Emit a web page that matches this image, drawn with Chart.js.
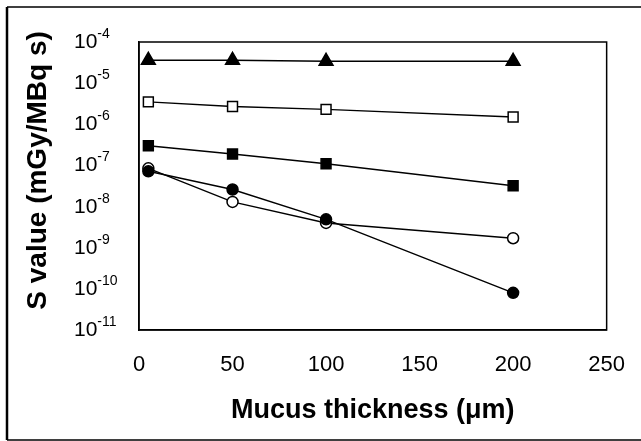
<!DOCTYPE html>
<html>
<head>
<meta charset="utf-8">
<script src="https://cdn.jsdelivr.net/npm/chart.js@4.4.1/dist/chart.umd.min.js"></script>
<style>
  html, body { margin: 0; padding: 0; background: #fff; }
  #wrap { width: 641px; height: 441px; position: relative; }
</style>
</head>
<body>
<div id="wrap"><canvas id="sChart" width="641" height="441"></canvas></div>
<script>
// mucus thickness (um)
const thickness = [5, 50, 100, 200];

// S values (mGy/MBq s)
const triangles = [3.6e-5, 3.6e-5, 3.4e-5, 3.4e-5];
const openSquares = [3.5e-6, 2.7e-6, 2.3e-6, 1.5e-6];
const filledSquares = [3.0e-7, 1.9e-7, 1.1e-7, 3.2e-8];
const openCircles = [8.5e-8, 1.3e-8, 4.0e-9, 1.7e-9];
const filledCircles = [7.2e-8, 2.6e-8, 4.9e-9, 8.0e-11];

const xTicks = [0, 50, 100, 150, 200, 250];
const yTicks = [1e-4, 1e-5, 1e-6, 1e-7, 1e-8, 1e-9, 1e-10, 1e-11];
const yExponents = ['-4', '-5', '-6', '-7', '-8', '-9', '-10', '-11'];

function points(ys) {
    return thickness.map((x, i) => ({ x: x, y: ys[i] }));
}

function series(label, ys, style, radius, fill) {
    return {
        label: label,
        data: points(ys),
        showLine: true,
        borderColor: '#000',
        borderWidth: 1.4,
        pointStyle: style,
        pointRadius: radius,
        pointHoverRadius: radius,
        pointBackgroundColor: fill,
        pointBorderColor: '#000',
        pointBorderWidth: 1.5
    };
}

// outer frame, plot box and the 10^n tick labels
const framePlugin = {
    id: 'frame',
    beforeDraw(chart) {
        const ctx = chart.ctx;
        ctx.save();
        ctx.fillStyle = '#fff';
        ctx.fillRect(0, 0, chart.width, chart.height);
        ctx.strokeStyle = '#000';
        ctx.lineWidth = 2.5;
        ctx.beginPath();
        ctx.moveTo(7, 440);
        ctx.lineTo(7, 7);
        ctx.stroke();
        ctx.lineWidth = 1.5;
        ctx.beginPath();
        ctx.moveTo(7, 7);
        ctx.lineTo(chart.width, 7);
        ctx.moveTo(7, 440);
        ctx.lineTo(chart.width, 440);
        ctx.stroke();
        ctx.restore();
    },
    afterDatasetsDraw(chart) {
        const a = chart.chartArea;
        const ctx = chart.ctx;
        ctx.save();
        ctx.strokeStyle = '#000';
        ctx.lineWidth = 1.5;
        ctx.strokeRect(a.left, a.top, a.right - a.left, a.bottom - a.top);
        ctx.restore();
    },
    afterDraw(chart) {
        const ctx = chart.ctx;
        const y = chart.scales.y;
        ctx.save();
        ctx.fillStyle = '#000';
        ctx.textAlign = 'left';
        ctx.textBaseline = 'alphabetic';
        yTicks.forEach((v, i) => {
            const py = y.getPixelForValue(v);
            ctx.font = '21px "Liberation Sans"';
            ctx.fillText('10', 74, py + 6);
            const w = ctx.measureText('10').width;
            ctx.font = '14px "Liberation Sans"';
            ctx.fillText(yExponents[i], 74 + w, py - 4);
        });
        ctx.restore();
    }
};

new Chart(document.getElementById('sChart'), {
    type: 'scatter',
    data: {
        datasets: [
            series('triangle', triangles, 'triangle', 8, '#000'),
            series('open square', openSquares, 'rect', 7, '#fff'),
            series('filled square', filledSquares, 'rect', 7, '#000'),
            series('filled circle', filledCircles, 'circle', 5.5, '#000'),
            series('open circle', openCircles, 'circle', 5.5, '#fff')
        ]
    },
    plugins: [framePlugin],
    options: {
        responsive: false,
        animation: false,
        layout: { padding: { top: 42, right: 33, left: 0, bottom: 0 } },
        plugins: {
            legend: { display: false },
            tooltip: { enabled: false }
        },
        scales: {
            x: {
                type: 'linear',
                min: 0,
                max: 250,
                afterBuildTicks(scale) {
                    scale.ticks = xTicks.map(v => ({ value: v }));
                },
                afterFit(scale) { scale.height = 111; },
                grid: { display: false, drawTicks: true, tickLength: 6, tickColor: '#555' },
                border: { display: true, color: '#000', width: 1.5 },
                ticks: {
                    color: '#000',
                    font: { family: 'Liberation Sans', size: 22 },
                    padding: 16
                },
                title: {
                    display: true,
                    text: 'Mucus thickness (\u03BCm)',
                    color: '#000',
                    font: { family: 'Liberation Sans', size: 27, weight: 'bold' },
                    padding: { top: 4, bottom: 14 }
                }
            },
            y: {
                type: 'logarithmic',
                min: 1e-11,
                max: 1e-4,
                afterBuildTicks(scale) {
                    scale.ticks = yTicks.map(v => ({ value: v }));
                },
                afterFit(scale) { scale.width = 139; },
                grid: { display: false, drawTicks: true, tickLength: 5, tickColor: '#555' },
                border: { display: true, color: '#000', width: 1.5 },
                ticks: { display: false },
                title: {
                    display: true,
                    text: '    S value (mGy/MBq s)',
                    color: '#000',
                    font: { family: 'Liberation Sans', size: 28, weight: 'bold' },
                    padding: { top: 21, bottom: 4 }
                }
            }
        }
    }
});
</script>
</body>
</html>
